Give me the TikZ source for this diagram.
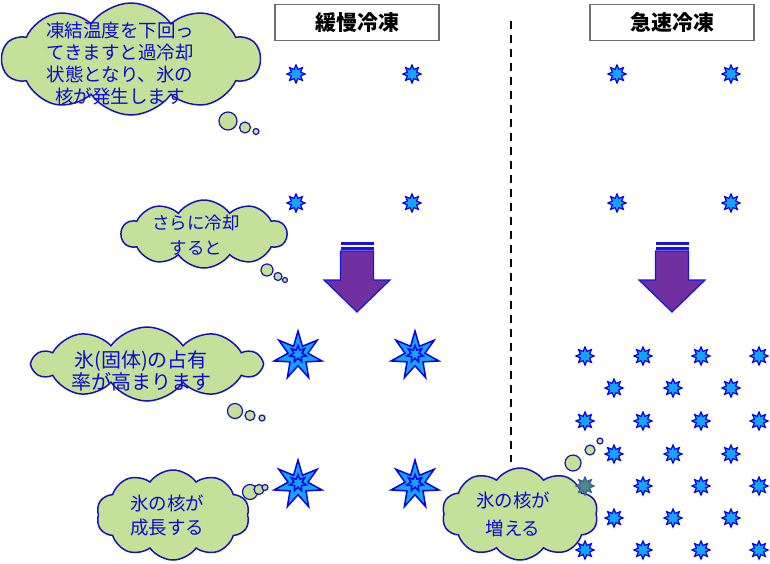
\documentclass[tikz,border=0pt]{standalone}
\usepackage{fontspec}
\newfontfamily\jp{Noto Sans CJK JP}
\usetikzlibrary{shapes.geometric,shapes.symbols}
\definecolor{cloudfill}{RGB}{197,224,152}
\definecolor{cloudline}{RGB}{20,20,180}
\definecolor{txtblue}{RGB}{10,10,210}
\definecolor{starfill}{RGB}{20,165,250}
\definecolor{starline}{RGB}{0,0,235}
\definecolor{arrowfill}{RGB}{112,48,160}
\definecolor{arrowline}{RGB}{20,20,230}
\definecolor{boxline}{RGB}{110,110,110}
\definecolor{hidstarfill}{RGB}{70,140,130}
\definecolor{hidstarline}{RGB}{60,90,150}
\begin{document}
\begin{tikzpicture}[x=1pt,y=-1pt,
  cloudbox/.style={cloud, cloud ignores aspect, cloud puffs=10, cloud puff arc=110,
    draw=cloudline, line width=1.5pt, fill=cloudfill, inner sep=0pt},
  cloudtext/.style n args={2}{inner sep=0pt, align=center, text=txtblue,
    font=\jp\fontsize{#1}{#2}\selectfont},
  bubble/.style={circle, draw=cloudline, line width=1.2pt, fill=cloudfill, inner sep=0pt, minimum size=#1},
  smallstar/.style={star, star points=8, star point ratio=1.8, minimum size=18, inner sep=0pt,
    draw=starline, line width=1.2pt, fill=starfill},
  bigstar/.style={star, star points=7, star point ratio=2.4, minimum size=49, inner sep=0pt,
    draw=starline, line width=1.5pt, fill=starfill},
  innerstar/.style={star, star points=7, star point ratio=2, minimum size=17, inner sep=0pt,
    draw=starline, line width=1.5pt, fill=starfill},
  titlebox/.style={draw=boxline, line width=1.8pt, fill=white, minimum width=164, minimum height=36,
    inner sep=0pt, font=\jp\bfseries\fontsize{21}{24}\selectfont},
  blockarrow/.style={fill=arrowfill, draw=arrowline, line width=1.2pt, line join=miter},
  stripe/.style={fill=arrowline, draw=none}
]
\useasboundingbox (0,0) rectangle (770,563);

% dashed divider
\coordinate (dtop) at (511,21);
\coordinate (dbot) at (511,462);
\draw[black, line width=1.5pt, dash pattern=on 8pt off 6pt] (dtop) -- (dbot);

% titles
\node[titlebox] (t1) at (357,22.5) {緩慢冷凍};
\node[titlebox] (t2) at (672,22.5) {急速冷凍};

% small stars (top rows)
\foreach \x/\n in {296/a,412/b,617/c,731/d}{
  \node[smallstar] (s1\n) at (\x,74) {};
  \node[smallstar] (s2\n) at (\x,203) {};
}

% block arrows
\foreach \cx/\n in {357/l,672/r}{
  \draw[blockarrow] (\cx-16.5,251) -- (\cx+16.5,251) -- (\cx+16.5,280) -- (\cx+33,280)
    -- (\cx,312) -- (\cx-33,280) -- (\cx-16.5,280) -- cycle;
  \fill[stripe] (\cx-16.5,242) rectangle (\cx+16.5,245.2);
  \fill[stripe] (\cx-16.5,246.8) rectangle (\cx+16.5,250);
}

% big stars
\foreach \x/\y/\n in {298/354/a,415/354/b,298/483/c,415/483/d}{
  \node[bigstar] (b\n) at (\x,\y+1.5) {};
  \node[innerstar] (bi\n) at (\x,\y) {};
}

% right grid of small stars
\foreach \y [count=\i] in {356,421,486,550}{
  \foreach \x [count=\j] in {585,643,701,759}{
    \ifnum\i=3 \ifnum\j=1 \else \node[smallstar] (gA\i\j) at (\x,\y) {}; \fi
    \else \node[smallstar] (gA\i\j) at (\x,\y) {}; \fi
  }
}
\foreach \y [count=\i] in {388,454,518}{
  \foreach \x [count=\j] in {614,673,731}{
    \node[smallstar] (gB\i\j) at (\x,\y) {};
  }
}

% cloud 1
\node[cloudbox, minimum width=258, minimum height=112] (c1) at (131,59) {};
\node[cloudtext={18.5}{22.3}, text width=170] (c1t) at (120,63.5)
  {凍結温度を下回っ\\てきますと過冷却\\状態となり、氷の\\核が発生します};
\node[bubble=18] (c1a) at (228,121) {};
\node[bubble=11] (c1b) at (245,127.5) {};
\node[bubble=6] (c1c) at (256,131.5) {};

% cloud 2
\node[cloudbox, minimum width=165, minimum height=68] (c2) at (204,234) {};
\node[cloudtext={17.5}{25}, text width=120] (c2t) at (196,235.5)
  {さらに冷却\\すると};
\node[bubble=12] (c2a) at (267,270) {};
\node[bubble=8] (c2b) at (278,276.5) {};
\node[bubble=5] (c2c) at (285,280) {};

% cloud 3
\node[cloudbox, minimum width=228, minimum height=74] (c3) at (147,364) {};
\node[cloudtext={20}{22}, text width=170] (c3t) at (141,371)
  {氷(固体)の占有\\率が高まります};
\node[bubble=15] (c3a) at (235,411) {};
\node[bubble=10] (c3b) at (250,415.5) {};
\node[bubble=6] (c3c) at (262,418) {};

% cloud 4
\node[cloudbox, minimum width=153, minimum height=90] (c4) at (173,515) {};
\node[cloudtext={18.5}{24}, text width=110] (c4t) at (167,515)
  {氷の核が\\成長する};
\node[bubble=15] (c4a) at (250,492) {};
\node[bubble=10] (c4b) at (259,489.5) {};
\node[bubble=6] (c4c) at (265,487.5) {};

% cloud 5
\node[cloudbox, minimum width=156, minimum height=92] (c5) at (520,514) {};
\node[cloudtext={18.5}{28}, text width=110] (c5t) at (513,514)
  {氷の核が\\増える};
\node[bubble=16] (c5a) at (573,463) {};
\node[bubble=10] (c5b) at (590,450) {};
\node[bubble=6] (c5c) at (600,441) {};

% star seen through cloud
\node[smallstar, fill=hidstarfill, draw=hidstarline] (gA31) at (585,486) {};
\end{tikzpicture}
\end{document}
